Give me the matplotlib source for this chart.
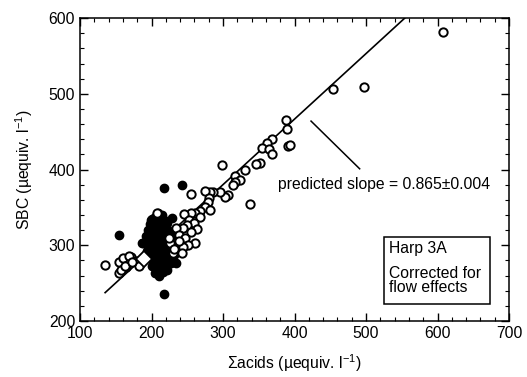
import numpy as np
import matplotlib
matplotlib.use("Agg")
import matplotlib.pyplot as plt
from matplotlib.ticker import MultipleLocator

plt.rcParams['font.family'] = ['Liberation Sans', 'DejaVu Sans']
plt.rcParams['mathtext.fontset'] = 'custom'
plt.rcParams['mathtext.rm'] = 'Liberation Sans'
plt.rcParams['mathtext.it'] = 'Liberation Sans'

# open circles (acids, SBC)
open_x = [607, 454, 497, 388, 390, 391, 393, 369, 361, 354, 364, 368, 352, 346, 330,
          299, 316, 324, 316, 314, 337, 307, 302, 296, 286, 281, 275, 280, 279, 275,
          281, 268, 261, 255, 246, 255, 207, 267, 253, 259, 250, 244, 264, 255, 234,
          239, 247, 261, 251, 244, 226, 230, 171, 178, 158, 164, 155, 135, 182, 154,
          160, 169, 157, 163, 173, 238, 232, 225, 242]
open_y = [582, 506, 509, 465, 453, 431, 432, 441, 435, 428, 427, 421, 408, 407, 400,
          406, 391, 386, 384, 379, 355, 367, 364, 371, 371, 371, 372, 363, 357, 350,
          346, 345, 343, 343, 341, 368, 343, 337, 334, 330, 327, 323, 321, 318, 323,
          314, 310, 303, 301, 298, 303, 290, 284, 279, 277, 271, 263, 274, 273, 278,
          283, 286, 268, 273, 278, 305, 295, 310, 290]

# filled circles
fill_x = [217, 242, 155, 217, 229, 199, 187,
          200, 205, 210, 213, 207, 198, 203, 212, 218, 222,
          195, 201, 208, 215, 221, 226,
          192, 199, 206, 213, 219, 227, 233,
          188, 196, 203, 210, 217, 224, 231,
          194, 200, 207, 214, 221, 228, 236,
          198, 204, 211, 218, 225, 232,
          200, 206, 213, 220, 227, 234,
          205, 210, 216, 222, 215, 209, 226]
fill_y = [375, 379, 314, 236, 336, 334, 303,
          335, 338, 336, 332, 330, 328, 325, 326, 333, 330,
          320, 318, 320, 318, 322, 318,
          312, 310, 312, 308, 310, 312, 313,
          303, 302, 300, 302, 298, 303, 300,
          293, 290, 293, 290, 292, 295, 296,
          283, 280, 283, 280, 285, 287,
          272, 270, 274, 271, 276, 276,
          263, 260, 265, 268, 340, 343, 300]

# open diamond
dia_x = [190]
dia_y = [282]

# regression line
slope = 0.865
icpt = 120.7
line_x = np.array([135, 560])

fs = 11.3

fig = plt.figure(figsize=(5.27, 3.77), dpi=100)
ax = fig.add_axes([0.152, 0.1485, 0.814, 0.8035])

ax.plot(line_x, slope * line_x + icpt, color='black', lw=1.2, zorder=1)
ax.plot(fill_x, fill_y, 'o', ms=6, mfc='black', mec='black', mew=1.0, ls='none', zorder=2)
ax.plot(open_x, open_y, 'o', ms=6, mfc='white', mec='black', mew=1.4, ls='none', zorder=3)
ax.plot(dia_x, dia_y, 'D', ms=8, mfc='white', mec='black', mew=1.3, ls='none', zorder=4)

ax.set_xlim(100, 700)
ax.set_ylim(200, 600)
ax.xaxis.set_major_locator(MultipleLocator(100))
ax.xaxis.set_minor_locator(MultipleLocator(20))
ax.yaxis.set_major_locator(MultipleLocator(100))
ax.yaxis.set_minor_locator(MultipleLocator(20))
ax.tick_params(which='both', direction='in', top=True, right=True, labelsize=fs)
ax.tick_params(which='major', length=6, width=1)
ax.tick_params(which='minor', length=3, width=0.8)
for s in ax.spines.values():
    s.set_linewidth(1.1)

ax.set_xlabel('Σacids (µequiv. l$^{-1}$)', fontsize=fs, labelpad=8)
ax.set_ylabel('SBC (µequiv. l$^{-1}$)', fontsize=fs, labelpad=10)

# annotation
ax.plot([423, 491], [464, 401], color='black', lw=1.1)
ax.text(377, 380, 'predicted slope = 0.865±0.004', fontsize=fs, va='center', ha='left')

ax.text(532, 296, 'Harp 3A', fontsize=fs, va='center', ha='left')
ax.text(532, 263, 'Corrected for', fontsize=fs, va='center', ha='left')
ax.text(532, 244, 'flow effects', fontsize=fs, va='center', ha='left')
ax.add_patch(plt.Rectangle((525, 223), 148, 88, fill=False, ec='black', lw=1.1))

fig.savefig('out.png', dpi=100)
